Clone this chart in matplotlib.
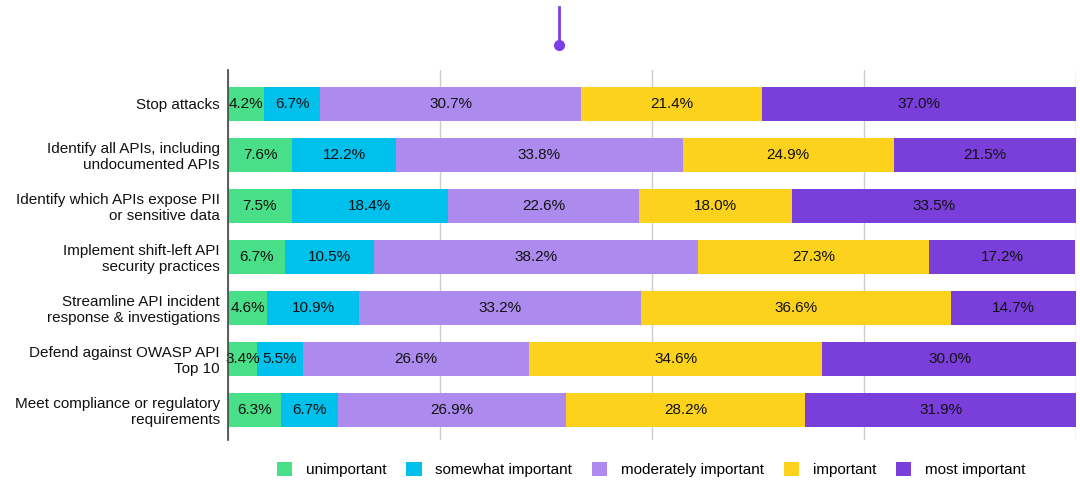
import numpy as np
import matplotlib.pyplot as plt
from matplotlib.lines import Line2D

plt.rcParams['font.family'] = ['Liberation Sans', 'DejaVu Sans']

categories = [
    "Stop attacks",
    "Identify all APIs, including\nundocumented APIs",
    "Identify which APIs expose PII\nor sensitive data",
    "Implement shift-left API\nsecurity practices",
    "Streamline API incident\nresponse & investigations",
    "Defend against OWASP API\nTop 10",
    "Meet compliance or regulatory\nrequirements",
]
series_names = ["unimportant", "somewhat important", "moderately important",
                "important", "most important"]
unimportant = [4.2, 7.6, 7.5, 6.7, 4.6, 3.4, 6.3]
somewhat = [6.7, 12.2, 18.4, 10.5, 10.9, 5.5, 6.7]
moderately = [30.7, 33.8, 22.6, 38.2, 33.2, 26.6, 26.9]
important = [21.4, 24.9, 18.0, 27.3, 36.6, 34.6, 28.2]
most = [37.0, 21.5, 33.5, 17.2, 14.7, 30.0, 31.9]

colors = ["#48df88", "#00c0ec", "#ad8bee", "#fcd21d", "#7a3edb"]

fig = plt.figure(figsize=(10.8, 4.82), dpi=100)
ax = fig.add_axes([0.2111, 0.0871, 0.7852, 0.7677])

y = np.arange(len(categories))
left = np.zeros(len(categories))
for name, vals, c in zip(series_names, [unimportant, somewhat, moderately, important, most], colors):
    vals = np.array(vals)
    ax.barh(y, vals, left=left, height=0.65, color=c, label=name, zorder=2)
    for yi, l, v in zip(y, left, vals):
        ax.text(l + v / 2, yi, f"{v:.1f}%", ha='center', va='center', fontsize=11, color='#111111', zorder=3)
    left += vals

ax.set_xlim(0, 100)
ax.set_ylim(6.59, -0.667)
ax.set_yticks(y)
ax.set_yticklabels(categories, fontsize=11, color='#111111', linespacing=1.15)
ax.set_xticks([0, 25, 50, 75, 100])
ax.set_xticklabels([])
ax.tick_params(axis='both', length=0, pad=6)
ax.grid(axis='x', color='#cccccc', linewidth=1, zorder=0)
for s in ['top', 'right', 'bottom']:
    ax.spines[s].set_visible(False)
ax.spines['left'].set_color('#444444')
ax.spines['left'].set_linewidth(1.2)
ax.spines['left'].set_zorder(4)

fig.legend(*ax.get_legend_handles_labels(), loc='center', bbox_to_anchor=(0.603, 0.025),
           ncol=5, frameon=False, fontsize=11, handlelength=1.0, handleheight=1.0,
           columnspacing=1.3, handletextpad=0.9)

# marker at the top
fig.add_artist(Line2D([559 / 1080, 559 / 1080], [1 - 7 / 482, 1 - 45 / 482],
                      color='#7b3fe4', linewidth=2, transform=fig.transFigure))
fig.add_artist(Line2D([559 / 1080], [1 - 45 / 482], marker='o', markersize=7,
                      color='#7b3fe4', transform=fig.transFigure))

fig.savefig('out.png', dpi=100)
